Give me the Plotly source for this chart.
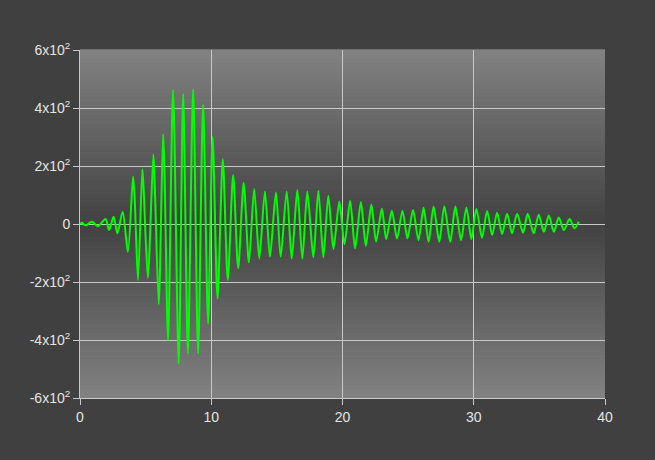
import plotly.graph_objects as go

# time (s) of each extreme / sample point
t = [0.00, 0.15, 0.30, 0.50, 0.70, 0.95, 1.15, 1.40, 1.60, 1.95, 2.22, 2.56, 2.85, 3.25,
     3.65, 4.04, 4.16, 4.42, 4.75, 4.86, 5.17, 5.59, 5.70, 6.00, 6.33, 6.43, 6.71, 7.09,
     7.52, 7.86, 8.22, 8.62, 9.00, 9.38, 9.76, 10.10, 10.48, 10.88, 11.26, 11.67, 12.05,
     12.47, 12.87, 13.27, 13.66, 14.09, 14.47, 14.93, 15.29, 15.75, 16.13, 16.56, 16.94,
     17.32, 17.78, 18.16, 18.54, 18.92, 19.31, 19.76, 20.15, 20.58, 20.96, 21.40, 21.78,
     22.20, 22.56, 23.00, 23.33, 23.76, 24.15, 24.57, 24.95, 25.37, 25.79, 26.18, 26.56,
     26.94, 27.37, 27.76, 28.21, 28.60, 29.03, 29.44, 29.82, 30.20, 30.63, 31.02, 31.40,
     31.78, 32.16, 32.54, 32.92, 33.30, 33.76, 34.11, 34.57, 34.95, 35.34, 35.72, 36.10,
     36.48, 36.87, 37.30, 37.68, 38.00]
# ground motion value at each point
v = [0, 4, -2, -4, 3, 8, -1, -7, 2, 17, -21, 25, -32, 42,
     -96, 163, 95, -193, 189, 110, -185, 240, 130, -277, 310, 200, -401, 463,
     -481, 449, -447, 465, -447, 412, -343, 300, -257, 223, -193, 169, -153,
     142, -133, 121, -119, 112, -113, 109, -113, 112, -119, 117, -119,
     112, -115, 115, -115, 97, -86, 78, -70, 80, -84, 76, -75,
     67, -60, 53, -52, 46, -50, 46, -50, 48, -55, 56, -61,
     60, -61, 60, -61, 60, -55, 56, -52, 52, -47, 45, -38,
     39, -35, 35, -32, 35, -30, 35, -32, 32, -27, 29, -27,
     22, -21, 17, -15, 8]

x_ticks = [0, 10, 20, 30, 40]
y_ticks = [-600, -400, -200, 0, 200, 400, 600]
y_tick_text = ["-6x10<sup>2</sup>", "-4x10<sup>2</sup>", "-2x10<sup>2</sup>", "0",
               "2x10<sup>2</sup>", "4x10<sup>2</sup>", "6x10<sup>2</sup>"]

fig = go.Figure()
fig.add_trace(go.Scatter(x=t, y=v, mode="lines",
                         line=dict(color="#00ff00", width=2, shape="spline", smoothing=0.8),
                         hoverinfo="x+y", showlegend=False))

# vertical gradient of the plot area: light at top/bottom, dark in the middle
shapes = []
n = 80
top, mid = 130, 66
for i in range(n):
    y0 = i / n
    y1 = (i + 1) / n
    c = (y0 + y1) / 2
    g = int(round(mid + (top - mid) * abs(2 * c - 1)))
    shapes.append(dict(type="rect", xref="paper", yref="paper", x0=0, x1=1, y0=y0, y1=y1 + 0.002,
                       fillcolor=f"rgb({g},{g},{g})", line=dict(width=0), layer="below"))

axis_font = dict(family="Liberation Sans, Arial, sans-serif", size=14, color="#e4e4e4")
fig.update_layout(
    width=655, height=460,
    paper_bgcolor="#404040", plot_bgcolor="rgba(0,0,0,0)",
    margin=dict(l=80, r=50, t=50, b=62),
    shapes=shapes,
    xaxis=dict(range=[0, 40], tickvals=x_ticks, ticktext=[str(x) for x in x_ticks],
               showgrid=True, gridcolor="#c8c8c8", gridwidth=1, zeroline=False,
               showline=True, linecolor="#c8c8c8", linewidth=1,
               ticks="outside", ticklen=6, tickcolor="#c8c8c8", tickfont=axis_font),
    yaxis=dict(range=[-600, 600], tickvals=y_ticks, ticktext=y_tick_text,
               showgrid=True, gridcolor="#c8c8c8", gridwidth=1, zeroline=False,
               showline=True, linecolor="#c8c8c8", linewidth=1,
               ticks="outside", ticklen=6, tickcolor="#c8c8c8", tickfont=axis_font),
)

fig.write_html("out.html", config={"displayModeBar": False},
               post_script="document.body.style.margin='0';document.body.style.background='#404040';")
